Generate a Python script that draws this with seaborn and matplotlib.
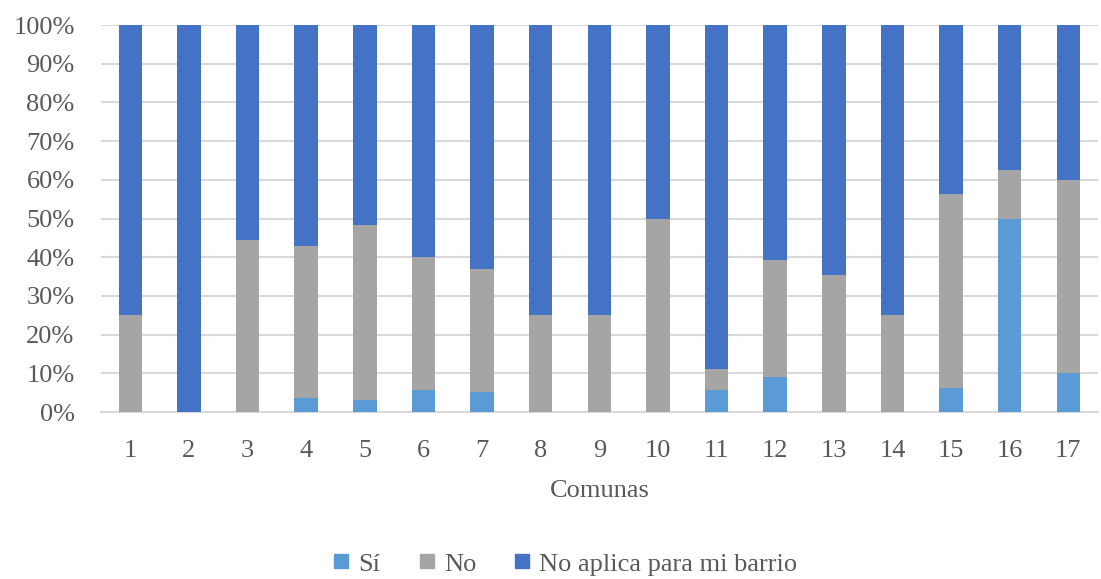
import numpy as np
import pandas as pd
import matplotlib
matplotlib.use("Agg")
import matplotlib.pyplot as plt
from matplotlib.lines import Line2D
import seaborn as sns

# ─────────────────────────────────────────
# DATA (percent of answers per comuna)
# ─────────────────────────────────────────
comunas = [str(i) for i in range(1, 18)]
si = [0, 0, 0, 3.6, 3.2, 5.7, 5.3, 0, 0, 0, 5.6, 9.1, 0, 0, 6.3, 50, 10]
no = [25, 0, 44.4, 39.3, 45.0, 34.3, 31.6, 25, 25, 50, 5.6, 30.3, 35.3, 25, 50, 12.5, 50]
no_aplica = [75, 100, 55.6, 57.1, 51.8, 60.0, 63.1, 75, 75, 50, 88.8, 60.6, 64.7, 75, 43.7, 37.5, 40]
series_names = ["Sí", "No", "No aplica para mi barrio"]
colors = ["#5B9BD5", "#A5A5A5", "#4472C4"]

text_color = "#595959"
grid_color = "#D9D9D9"
fs = 19

sns.set_style("white")
plt.rcParams['font.family'] = ['Liberation Serif', 'DejaVu Serif']

df = pd.DataFrame({"Comuna": comunas, "si": si, "no": no, "na": no_aplica})
# cumulative tops for the stacked layers
df["top_si"] = df["si"]
df["top_no"] = df["si"] + df["no"]
df["top_na"] = df["si"] + df["no"] + df["na"]

fig = plt.figure(figsize=(11.01, 5.79), dpi=100)
ax = fig.add_axes([0.0917, 0.2884, 0.9053, 0.6684])

# draw back to front so each shorter layer sits on top
for col, c in [("top_na", colors[2]), ("top_no", colors[1]), ("top_si", colors[0])]:
    sns.barplot(data=df, x="Comuna", y=col, color=c, width=0.4,
                saturation=1, linewidth=0, ax=ax, zorder=3)

ax.set_ylim(0, 100)
ax.set_xlim(-0.5, 16.5)
ax.set_yticks(np.arange(0, 101, 10))
ax.set_yticklabels([f"{v}%" for v in range(0, 101, 10)])
ax.yaxis.grid(True, color=grid_color, linewidth=1.5, zorder=0)
ax.set_axisbelow(True)
for side in ["top", "right", "left"]:
    ax.spines[side].set_visible(False)
ax.spines["bottom"].set_color(grid_color)
ax.spines["bottom"].set_linewidth(1.5)
ax.tick_params(axis="both", length=0, labelsize=fs, colors=text_color)
ax.tick_params(axis="y", pad=19)
ax.tick_params(axis="x", pad=20)
ax.set_ylabel("")
ax.set_xlabel("Comunas", fontsize=fs, color=text_color, labelpad=13)

handles = [Line2D([0], [0], marker="s", linestyle="none", markersize=10,
                  markerfacecolor=c, markeredgecolor=c) for c in colors]
fig.legend(handles, series_names, loc="lower center", ncol=3,
           bbox_to_anchor=(0.513, -0.035), frameon=False, fontsize=fs,
           labelcolor=text_color, handlelength=0.7, handletextpad=0.3,
           columnspacing=1.4)

fig.savefig("out.png", dpi=100)
